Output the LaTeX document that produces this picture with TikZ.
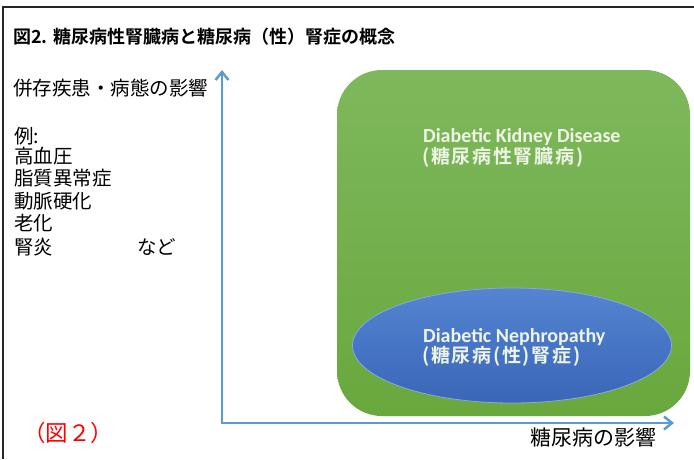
\documentclass[tikz,border=0pt]{standalone}
\usepackage{fontspec}
\newfontfamily\jp[BoldFont={Noto Sans CJK JP Bold}]{Noto Sans CJK JP}
\newfontfamily\jpw[BoldFont={Noto Sans CJK JP Bold}, LetterSpace=9]{Noto Sans CJK JP}
\newfontfamily\carl{Carlito}
\usepackage{tikz}
\usetikzlibrary{positioning, shapes.geometric, arrows.meta}
\definecolor{axisblue}{HTML}{5B9BD5}
\definecolor{dkdtop}{HTML}{7EB85C}
\definecolor{dkdbot}{HTML}{69A83D}
\definecolor{dntop}{HTML}{5484D2}
\definecolor{dnbot}{HTML}{3A66B8}
\definecolor{paletext}{HTML}{EEF5E6}

\begin{document}
\begin{tikzpicture}[x=1pt, y=-1pt,
  every node/.style={inner sep=0pt},
  jtext/.style={font=\jp\fontsize{19.5}{19.5}\selectfont, anchor=base west},
  ttext/.style={font=\jp\bfseries\fontsize{18}{18}\selectfont, anchor=base west},
  etext/.style={font=\carl\bfseries\fontsize{20}{20}\selectfont, text=paletext,
    anchor=base west, text depth=2pt},
  ktext/.style={font=\jpw\bfseries\fontsize{19}{19}\selectfont, text=paletext,
    anchor=base west, text height=14pt},
  axis/.style={draw=axisblue, line width=2.5pt,
    {Straight Barb[length=8pt,width=13pt]}-{Straight Barb[length=8pt,width=13pt]}}]
  \useasboundingbox (0,0) rectangle (694,459);
  \fill[white] (0,0) rectangle (694,459);
  \draw[line width=2pt, black!85] (3,459) -- (3,7) -- (694,7);

  \node[ttext] (T)  at (13,43) {図2. 糖尿病性腎臓病と糖尿病（性）腎症の概念};

  \node[rectangle, rounded corners=45pt, top color=dkdtop, bottom color=dkdbot,
        minimum width=353pt, minimum height=346pt] (dkd) at (513.5,243) {};
  \node[ellipse, draw=dntop!70!white, line width=0.8pt, top color=dntop, bottom color=dnbot,
        minimum width=319pt, minimum height=115pt] (dn) at (512,345.5) {};

  \node[etext] (dkd1) at (423,142) {Diabetic Kidney Disease};
  \node[ktext] (dkd2) at (422,163) {(糖尿病性腎臓病)};
  \node[etext] (dn1)  at (423,342) {Diabetic Nephropathy};
  \node[ktext] (dn2)  at (422,362) {(糖尿病(性)腎症)};

  \coordinate (O)    at (222,423);
  \coordinate (ytop) at (222,70);
  \coordinate (xend) at (674,423);
  \draw[axis] (ytop) -- (O) -- (xend);

  \node[jtext] (Y)   at (13,95) {併存疾患・病態の影響};
  \node[jtext] (ex)  at (14,143) {例:};
  \node[jtext] (hbp) at (14,163) {高血圧};
  \node[jtext] (dl)  at (14,185) {脂質異常症};
  \node[jtext] (as)  at (14,208) {動脈硬化};
  \node[jtext] (age) at (14,230) {老化};
  \node[jtext] (gn)  at (14,254) {腎炎};
  \node[jtext] (etc) at (137,254) {など};

  \node[jtext, font=\jp\fontsize{21}{21}\selectfont] (X) at (530,445.5) {糖尿病の影響};
  \node[jtext, font=\jp\fontsize{22.5}{22.5}\selectfont, text=red] (fig) at (23,441) {（図２）};
\end{tikzpicture}
\end{document}
